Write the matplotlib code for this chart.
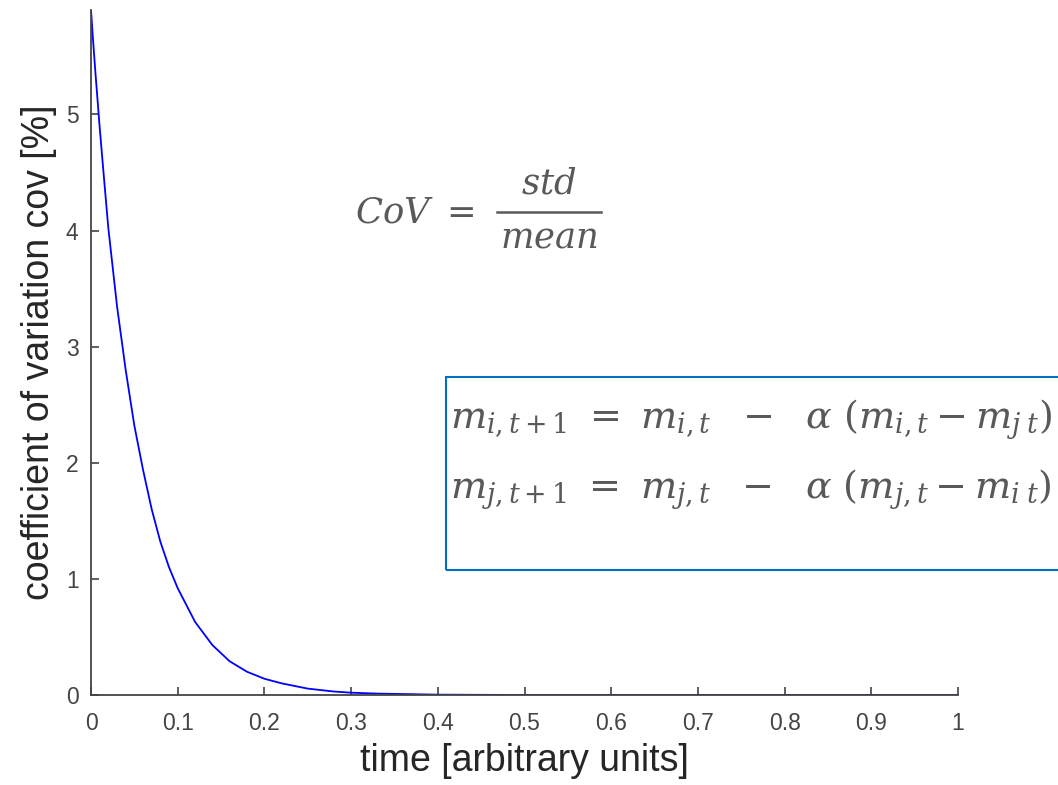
import matplotlib
matplotlib.use("Agg")
import matplotlib.pyplot as plt
from matplotlib.patches import Rectangle
from matplotlib.lines import Line2D

# values
time_vals = [0.0, 0.002, 0.005, 0.01, 0.015, 0.02, 0.03, 0.04, 0.05, 0.06,
             0.07, 0.08, 0.09, 0.10, 0.12, 0.14, 0.16, 0.18, 0.20, 0.22,
             0.25, 0.28, 0.30, 0.33, 0.40, 0.50, 0.60, 0.70, 0.80, 0.90, 1.0]
cov_vals = [5.9, 5.68, 5.37, 4.89, 4.45, 4.02, 3.35, 2.80, 2.32, 1.94,
            1.60, 1.32, 1.10, 0.92, 0.63, 0.43, 0.29, 0.20, 0.14, 0.10,
            0.055, 0.03, 0.02, 0.012, 0.003, 0.0, 0.0, 0.0, 0.0, 0.0, 0.0]
xticks = [0, 0.1, 0.2, 0.3, 0.4, 0.5, 0.6, 0.7, 0.8, 0.9, 1]
xtick_labels = ["0", "0.1", "0.2", "0.3", "0.4", "0.5", "0.6", "0.7", "0.8", "0.9", "1"]
yticks = [0, 1, 2, 3, 4, 5]

plt.rcParams['font.family'] = ['Liberation Sans', 'DejaVu Sans']
plt.rcParams['mathtext.fontset'] = 'dejavuserif'

W, H = 1058, 785
fig = plt.figure(figsize=(W / 100, H / 100), dpi=100)
ax = fig.add_axes([91 / W, 1 - 695 / H, (958 - 91) / W, (695 - 10) / H])

ax.plot(time_vals, cov_vals, color='#0000ff', lw=1.3)
ax.set_xlim(0, 1)
ax.set_ylim(0, 5.9)

ax.set_xticks(xticks, xtick_labels)
ax.set_yticks(yticks)
for s in ['top', 'right']:
    ax.spines[s].set_visible(False)
for s in ['left', 'bottom']:
    ax.spines[s].set_color('#444444')
    ax.spines[s].set_linewidth(1.3)
ax.tick_params(direction='in', length=6, width=1.1, color='#333333',
               labelsize=16.5, labelcolor='#444444')
ax.tick_params(axis='x', pad=12)
ax.tick_params(axis='y', pad=9)

ax.set_xlabel('time [arbitrary units]', fontsize=27, color='#262626', labelpad=6)
ax.set_ylabel('coefficient of variation cov [%]', fontsize=27, color='#262626', labelpad=6)

eq_color = '#595959'
# CoV = std / mean
fig.text(355 / W, 1 - 213 / H, r'$CoV\ =$', fontsize=25.5, color=eq_color,
         ha='left', va='center')
fig.text(549 / W, 1 - 184 / H, r'$std$', fontsize=25.5, color=eq_color,
         ha='center', va='center')
fig.text(549 / W, 1 - 238 / H, r'$mean$', fontsize=25.5, color=eq_color,
         ha='center', va='center')
fig.add_artist(Line2D([497 / W, 601 / W], [1 - 212 / H, 1 - 212 / H],
                      color=eq_color, lw=1.8))

# update rule box
fig.add_artist(Rectangle((446 / W, 1 - 570 / H), (1070 - 446) / W, (570 - 377) / H,
                         fill=False, edgecolor='#0070c0', lw=1.5, clip_on=False))
fig.text(450 / W, 1 - 420 / H,
         r'$m_{i,t+1}\ =\ m_{i,t}\ \ -\ \ \alpha\ \left(m_{i,t} - m_{j\;t}\right)$',
         fontsize=27.5, color=eq_color, ha='left', va='center')
fig.text(450 / W, 1 - 490 / H,
         r'$m_{j,t+1}\ =\ m_{j,t}\ \ -\ \ \alpha\ \left(m_{j,t} - m_{i\;t}\right)$',
         fontsize=27.5, color=eq_color, ha='left', va='center')

fig.savefig('out.png', dpi=100)
